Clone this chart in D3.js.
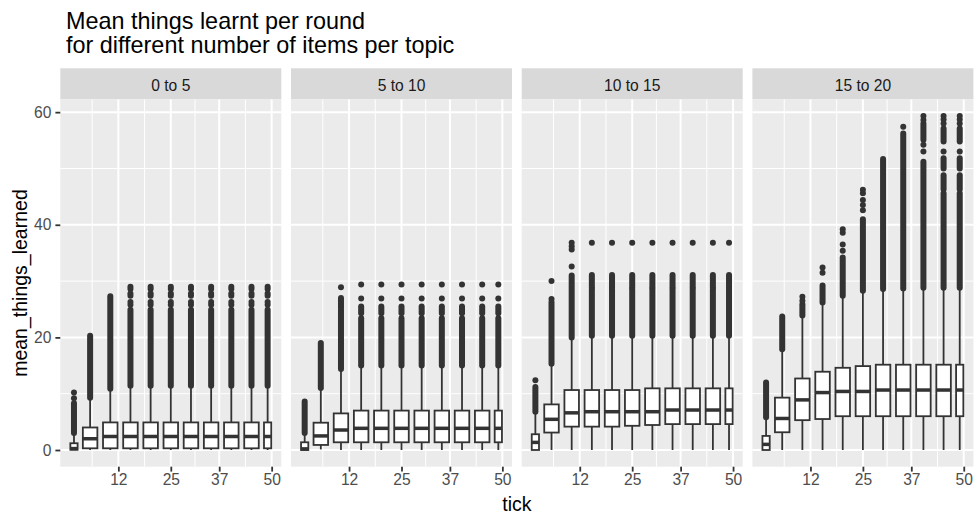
<!DOCTYPE html>
<html>
<head>
<meta charset="utf-8">
<script src="https://cdn.jsdelivr.net/npm/d3@7"></script>
<style>
  body { margin: 0; background: #fff; }
  svg { display: block; }
  text { font-family: "Liberation Sans", Arial, sans-serif; }
</style>
</head>
<body>
<svg id="chart" width="975" height="516"></svg>
<script>
// facets and tick bins (boxes are grouped by cut_width(tick, 5))
const facets = ["0 to 5", "5 to 10", "10 to 15", "15 to 20"];
const binLo = [0, 3, 8, 13, 18, 23, 28, 33, 38, 43, 48];
const binHi = [2, 7, 12, 17, 22, 27, 32, 37, 42, 47, 50];
const xBreaks = [12, 25, 37, 50];
const yBreaks = [0, 20, 40, 60];

// box statistics, one row per facet, one value per bin
const whiskLo = [
  [0, 0, 0, 0, 0, 0, 0, 0, 0, 0, 0],
  [0, 0.1, 0, 0, 0, 0, 0, 0, 0, 0, 0],
  [0, 0, 0, 0, 0, 0, 0, 0, 0, 0, 0],
  [0, 0, 0, 0, 0, 0, 0, 0, 0, 0, 0]
];
const q1 = [
  [0.05, 0.3, 0.3, 0.3, 0.3, 0.3, 0.3, 0.3, 0.3, 0.3, 0.3],
  [0, 0.9, 1.37, 1.37, 1.37, 1.37, 1.37, 1.37, 1.37, 1.37, 1.37],
  [0, 3.1, 4.15, 4.15, 4.15, 4.3, 4.44, 4.6, 4.6, 4.6, 4.6],
  [0, 3.15, 5.3, 5.5, 6.0, 6.0, 6.0, 6.0, 6.0, 6.0, 6.0]
];
const median = [
  [0.25, 2.0, 2.4, 2.4, 2.4, 2.4, 2.4, 2.4, 2.4, 2.4, 2.4],
  [0.2, 2.5, 3.55, 3.85, 3.85, 3.85, 3.85, 3.85, 3.85, 3.85, 3.85],
  [1.35, 5.45, 6.6, 6.8, 6.8, 6.8, 6.8, 7.1, 7.1, 7.1, 7.1],
  [1.0, 5.6, 8.9, 10.2, 10.4, 10.4, 10.65, 10.65, 10.65, 10.65, 10.65]
];
const q3 = [
  [1.2, 4.0, 4.9, 4.9, 4.9, 4.9, 4.9, 4.9, 4.9, 4.9, 4.9],
  [1.37, 4.85, 6.5, 7.0, 7.0, 7.0, 7.0, 7.0, 7.0, 7.0, 7.0],
  [2.8, 8.1, 10.65, 10.65, 10.65, 10.65, 10.95, 10.95, 10.95, 10.95, 10.95],
  [2.5, 9.3, 12.7, 13.9, 14.6, 14.9, 15.15, 15.15, 15.15, 15.15, 15.15]
];
const whiskHi = [
  [2.8, 9.0, 10.6, 11.2, 11.2, 11.2, 11.2, 11.2, 11.2, 11.2, 11.2],
  [2.9, 10.7, 14.2, 14.9, 14.9, 14.9, 14.9, 14.9, 14.9, 14.9, 14.9],
  [6.5, 15.1, 19.8, 20.1, 20.1, 20.1, 20.1, 20.1, 20.1, 20.1, 20.1],
  [5.6, 17.8, 23.7, 26.0, 27.2, 28.1, 28.4, 28.5, 28.6, 28.6, 28.6]
];

// outliers: runs of overlapping points drawn as bands, plus loose points
const outlierBands = [
  [[[3.0, 8.3]], [[9.3, 20.3]], [[10.9, 27.3]],
   [[11.4, 24.9]], [[11.4, 24.9]], [[11.4, 24.9]], [[11.4, 24.9]],
   [[11.4, 24.9]], [[11.4, 24.9]], [[11.4, 24.9]], [[11.4, 24.9]]],
  [[[3.0, 8.6]], [[11.0, 19.0]], [[14.4, 24.9], [25.3, 27.0]],
   [[15.0, 23.4], [24.3, 25.5]], [[15.0, 23.4], [24.3, 25.5]], [[15.0, 23.4], [24.3, 25.5]],
   [[15.0, 23.4], [24.3, 25.5]], [[15.0, 23.4], [24.3, 25.5]], [[15.0, 23.4], [24.3, 25.5]],
   [[15.0, 23.4], [24.3, 25.5]], [[15.0, 23.4], [24.3, 25.5]]],
  [[[6.8, 11.2]], [[15.3, 26.3]], [[20.0, 31.0]],
   [[20.3, 28.6], [28.9, 31.1]], [[20.3, 28.6], [28.9, 31.1]], [[20.3, 28.6], [28.9, 31.1]],
   [[20.3, 28.6], [28.9, 31.1]], [[20.3, 28.6], [28.9, 31.1]], [[20.3, 28.6], [28.9, 31.1]],
   [[20.3, 28.6], [28.9, 31.1]], [[20.3, 28.6], [28.9, 31.1]]],
  [[[5.8, 12.0]], [[17.9, 23.7]], [[23.9, 25.9]], [[26.2, 29.2]], [[27.4, 34.2]],
   [[28.3, 41.0]], [[28.6, 51.7]], [[28.7, 56.2]],
   [[28.8, 51.2], [55.1, 58.0]],
   [[28.8, 45.6], [46.3, 48.8], [50.0, 51.8], [54.8, 57.1]],
   [[28.8, 45.6], [46.3, 48.8], [50.0, 51.8], [54.8, 57.1]]]
];
const outlierDots = [
  [[9.2, 10.2], [], [],
   [25.8, 26.3, 27.4, 27.8, 28.6, 29.0], [25.8, 26.3, 27.4, 27.8, 28.6, 29.0],
   [25.8, 26.3, 27.4, 27.8, 28.6, 29.0], [25.8, 26.3, 27.4, 27.8, 28.6, 29.0],
   [25.8, 26.3, 27.4, 27.8, 28.6, 29.0], [25.8, 26.3, 27.4, 27.8, 28.6, 29.0],
   [25.8, 26.3, 27.4, 27.8, 28.6, 29.0], [25.8, 26.3, 27.4, 27.8, 28.6, 29.0]],
  [[], [], [28.9],
   [26.9, 29.4], [26.9, 29.4], [26.9, 29.4], [26.9, 29.4],
   [26.9, 29.4], [26.9, 29.4], [26.9, 29.4], [26.9, 29.4]],
  [[12.4], [26.8, 30.0], [32.6, 35.6, 36.2, 36.8],
   [36.8], [36.8], [36.8], [36.8], [36.8], [36.8], [36.8], [36.8]],
  [[], [], [26.5, 27.2], [31.5, 32.4], [35.4, 36.5, 38.6, 39.2],
   [42.6, 43.5, 44.4, 45.6, 46.2], [], [57.4],
   [53.0, 54.2, 58.6, 59.3],
   [53.0, 58.0, 58.7, 59.3],
   [53.0, 58.0, 58.7, 59.3]]
];

// ---- layout (ggplot theme_grey look) ----
const svg = d3.select("#chart");
const plotLeft = 60.3, plotRight = 973.4, panelGap = 9.7;
const panelW = (plotRight - plotLeft - panelGap * (facets.length - 1)) / facets.length;
const stripTop = 68.3, panelTop = 99.4, panelBottom = 466.7;
const grey20 = "#333333", grey30 = "#4D4D4D";

// x: ggplot continuous scale with 5% expansion on the box extents
const centers = binLo.map((lo, i) => (lo + binHi[i]) / 2);
const widths = binLo.map((lo, i) => (binHi[i] - lo) * 0.9);
const xMin = d3.min(centers, (c, i) => c - widths[i] / 2);
const xMax = d3.max(centers, (c, i) => c + widths[i] / 2);
const xPad = (xMax - xMin) * 0.05;
const x = d3.scaleLinear().domain([xMin - xPad, xMax + xPad]).range([0, panelW]);

const allVals = [whiskLo, whiskHi, outlierDots.map(f => f.flat()), outlierBands.map(f => f.flat(2))].flat(2);
const yMin = d3.min(allVals), yMax = d3.max(allVals);
const yPad = (yMax - yMin) * 0.05;
const y = d3.scaleLinear().domain([yMin - yPad, yMax + yPad]).range([panelBottom, panelTop]);

// minor breaks as ggplot's regular_minor_breaks does
function minorBreaks(b, dom) {
  const bd = b[1] - b[0];
  let ext = b.slice();
  if (dom[0] < b[0]) ext.unshift(b[0] - bd);
  if (dom[1] > b[b.length - 1]) ext.push(b[b.length - 1] + bd);
  const out = [];
  for (let i = 0; i < ext.length - 1; i++) out.push((ext[i] + ext[i + 1]) / 2);
  return out.filter(v => v >= dom[0] && v <= dom[1]);
}
const xMinor = minorBreaks(xBreaks, x.domain());
const yMinor = minorBreaks(yBreaks, y.domain());

facets.forEach((name, f) => {
  const g = svg.append("g").attr("transform", `translate(${plotLeft + f * (panelW + panelGap)},0)`);

  // strip
  g.append("rect").attr("x", 0).attr("y", stripTop).attr("width", panelW)
    .attr("height", panelTop - stripTop).attr("fill", "#D9D9D9");
  g.append("text").attr("x", panelW / 2).attr("y", 90.5).attr("text-anchor", "middle")
    .attr("font-size", 15.6).attr("fill", "#1A1A1A").text(name);

  // panel
  g.append("rect").attr("x", 0).attr("y", panelTop).attr("width", panelW)
    .attr("height", panelBottom - panelTop).attr("fill", "#EBEBEB");

  g.selectAll(".ymin").data(yMinor).enter().append("line")
    .attr("x1", 0).attr("x2", panelW).attr("y1", d => y(d)).attr("y2", d => y(d))
    .attr("stroke", "#fff").attr("stroke-width", 1);
  g.selectAll(".xmin").data(xMinor).enter().append("line")
    .attr("y1", panelTop).attr("y2", panelBottom).attr("x1", d => x(d)).attr("x2", d => x(d))
    .attr("stroke", "#fff").attr("stroke-width", 1);
  g.selectAll(".ymaj").data(yBreaks).enter().append("line")
    .attr("x1", 0).attr("x2", panelW).attr("y1", d => y(d)).attr("y2", d => y(d))
    .attr("stroke", "#fff").attr("stroke-width", 2);
  g.selectAll(".xmaj").data(xBreaks).enter().append("line")
    .attr("y1", panelTop).attr("y2", panelBottom).attr("x1", d => x(d)).attr("x2", d => x(d))
    .attr("stroke", "#fff").attr("stroke-width", 2);

  // boxes
  centers.forEach((c, i) => {
    const cx = x(c);
    const half = (x(c + widths[i] / 2) - x(c - widths[i] / 2)) / 2;

    outlierBands[f][i].forEach(b => {
      g.append("line").attr("x1", cx).attr("x2", cx).attr("y1", y(b[0])).attr("y2", y(b[1]))
        .attr("stroke", grey20).attr("stroke-width", 6).attr("stroke-linecap", "round");
    });
    outlierDots[f][i].forEach(v => {
      g.append("circle").attr("cx", cx).attr("cy", y(v)).attr("r", 3).attr("fill", grey20);
    });

    g.append("line").attr("x1", cx).attr("x2", cx).attr("y1", y(whiskLo[f][i])).attr("y2", y(q1[f][i]))
      .attr("stroke", grey20).attr("stroke-width", 1.8);
    g.append("line").attr("x1", cx).attr("x2", cx).attr("y1", y(q3[f][i])).attr("y2", y(whiskHi[f][i]))
      .attr("stroke", grey20).attr("stroke-width", 1.8);
    g.append("rect").attr("x", cx - half).attr("width", half * 2)
      .attr("y", y(q3[f][i])).attr("height", y(q1[f][i]) - y(q3[f][i]))
      .attr("fill", "#fff").attr("stroke", grey20).attr("stroke-width", 1.8);
    g.append("line").attr("x1", cx - half).attr("x2", cx + half)
      .attr("y1", y(median[f][i])).attr("y2", y(median[f][i]))
      .attr("stroke", grey20).attr("stroke-width", 3.5);
  });

  // x axis
  const xa = g.append("g").attr("transform", `translate(0,${panelBottom})`)
    .call(d3.axisBottom(x).tickValues(xBreaks).tickSize(4.9).tickPadding(2));
  xa.select(".domain").remove();
  xa.selectAll("line").attr("stroke", grey20).attr("stroke-width", 1.8);
  xa.selectAll("text").attr("font-size", 15.6).attr("fill", grey30)
    .attr("font-family", null).attr("dy", "0.71em");

  if (f === 0) {
    const ya = g.append("g").call(d3.axisLeft(y).tickValues(yBreaks).tickSize(4.9).tickPadding(4));
    ya.select(".domain").remove();
    ya.selectAll("line").attr("stroke", grey20).attr("stroke-width", 1.8);
    ya.selectAll("text").attr("font-size", 15.6).attr("fill", grey30).attr("font-family", null);
  }
});

// titles
svg.append("text").attr("x", 66).attr("y", 29.3).attr("font-size", 23.4).attr("fill", "#000")
  .text("Mean things learnt per round");
svg.append("text").attr("x", 66).attr("y", 53.3).attr("font-size", 23.4).attr("fill", "#000")
  .text("for different number of items per topic");
svg.append("text").attr("x", (plotLeft + plotRight) / 2).attr("y", 511).attr("text-anchor", "middle")
  .attr("font-size", 19.5).attr("fill", "#000").text("tick");
svg.append("text").attr("transform", `translate(26.5,${(panelTop + panelBottom) / 2}) rotate(-90)`)
  .attr("text-anchor", "middle").attr("font-size", 19.5).attr("fill", "#000").text("mean_things_learned");
</script>
</body>
</html>
